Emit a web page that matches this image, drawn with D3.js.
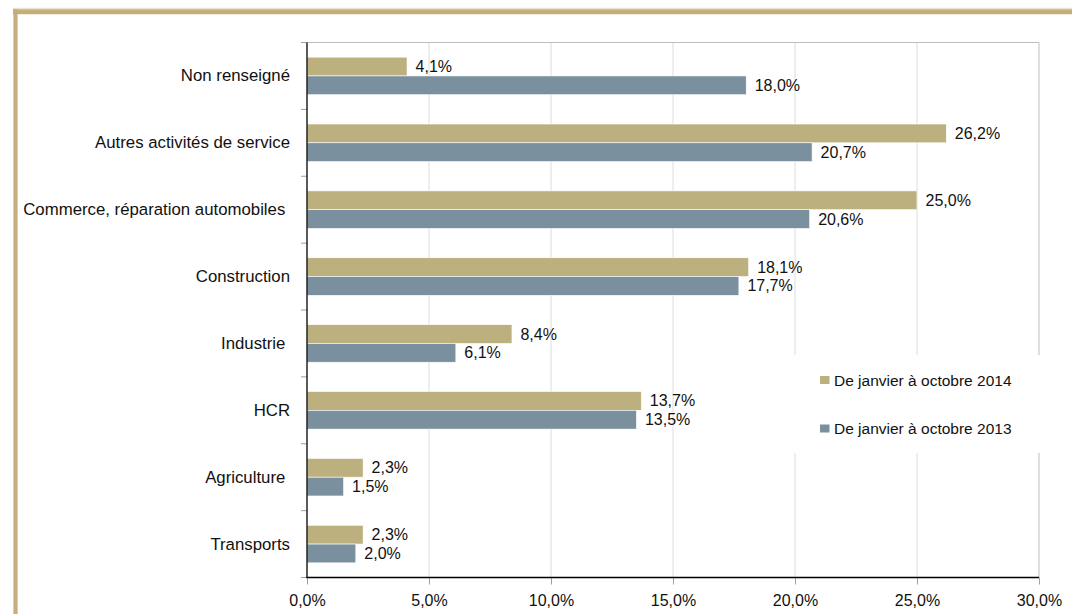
<!DOCTYPE html>
<meta charset="utf-8">
<style>
body{
  margin:0;
  background:#fff;
}
text{
  font-family:"Liberation Sans", Arial, sans-serif;
  fill:#111;
}
.cat{
  font-size:16.8px;
  text-anchor:end;
  white-space:pre;
}
.val, .tick text{
  font-size:16px;
}
.legend text{
  font-size:15.5px;
}
</style>
<body>
<script src="https://d3js.org/d3.v7.min.js"></script>
<script>

    // ---------- data ------------
    var categories = ["Non renseigné", "Autres activités de service", "Commerce, réparation automobiles ",
        "Construction", "Industrie ", "HCR", "Agriculture ", "Transports"];
    var values2014 = [4.1, 26.2, 25.0, 18.1, 8.4, 13.7, 2.3, 2.3];
    var values2013 = [18.0, 20.7, 20.6, 17.7, 6.1, 13.5, 1.5, 2.0];
    var seriesNames = ["De janvier à octobre 2014", "De janvier à octobre 2013"];
    var xTicks = [0, 5, 10, 15, 20, 25, 30];

    var color = {"De janvier à octobre 2014":"#BDB07F", "De janvier à octobre 2013":"#7A909E"};

    var rows = categories.map(function(c, i){
        return {cat:c, values:[
            {s:seriesNames[0], v:values2014[i]},
            {s:seriesNames[1], v:values2013[i]}
        ]};
    });

    var fmt = function(v){ return d3.format(".1f")(v).replace(".", ",") + "%"; };

    var svg = d3.select("body").append("svg").attr("width", 1072).attr("height", 614);

    // ---------- frame ------------
    svg.append("line").attr("x1", 13).attr("x2", 1072).attr("y1", 8.3).attr("y2", 8.3)
        .attr("stroke", "#E6DECB").attr("stroke-width", 1);
    svg.append("line").attr("x1", 13).attr("x2", 1072).attr("y1", 11.8).attr("y2", 11.8)
        .attr("stroke", "#C4AF7A").attr("stroke-width", 5);
    svg.append("line").attr("x1", 15.5).attr("x2", 15.5).attr("y1", 9.3).attr("y2", 614)
        .attr("stroke", "#C4AF7A").attr("stroke-width", 4.2);

    // ---------- scales ------------
    var x = d3.scaleLinear().domain([0, 30]).range([307, 1039]);
    var y = d3.scaleBand().domain(categories).range([42.5, 577.5]);
    var ySub = d3.scaleBand().domain(seriesNames).range([0, y.bandwidth()])
        .paddingInner(0).paddingOuter(0.78);

    // gridlines
    svg.append("g").selectAll("line").data(xTicks.slice(1)).join("line")
        .attr("x1", d => x(d)).attr("x2", d => x(d))
        .attr("y1", 42.5).attr("y2", 577.5)
        .attr("stroke", d => d == 30 ? "#BDBDBD" : "#DCDCDC").attr("stroke-width", 1);
    svg.append("line").attr("x1", 301).attr("x2", x(30)).attr("y1", 42.5).attr("y2", 42.5)
        .attr("stroke", "#BDBDBD").attr("stroke-width", 1);

    // bars
    var groups = svg.append("g").selectAll("g").data(rows).join("g")
        .attr("transform", d => "translate(0," + y(d.cat) + ")");

    groups.selectAll("rect").data(d => d.values).join("rect")
        .attr("x", x(0))
        .attr("y", d => ySub(d.s))
        .attr("width", d => x(d.v) - x(0))
        .attr("height", ySub.bandwidth())
        .attr("fill", d => color[d.s])
        .attr("stroke", "#fff").attr("stroke-width", 0.6);

    groups.selectAll("text.val").data(d => d.values).join("text")
        .attr("class", "val")
        .attr("x", d => x(d.v) + 8.5)
        .attr("y", d => ySub(d.s) + ySub.bandwidth() / 2)
        .attr("dominant-baseline", "central")
        .text(d => fmt(d.v));

    // ---------- axes ------------
    var xAxis = svg.append("g").attr("transform", "translate(0,577.5)")
        .call(d3.axisBottom(x).tickValues(xTicks).tickFormat(fmt).tickSize(7).tickPadding(9));
    xAxis.select(".domain").remove();
    xAxis.selectAll(".tick line").attr("stroke", "#A0A0A0");
    xAxis.selectAll(".tick text").attr("dy", "0.75em").attr("font-family", null).attr("font-size", null);

    // category ticks (band boundaries)
    var bounds = categories.map(c => y(c)).concat([y.range()[1]]);
    svg.append("g").selectAll("line").data(bounds).join("line")
        .attr("x1", 301).attr("x2", 307).attr("y1", d => d).attr("y2", d => d)
        .attr("stroke", "#A0A0A0").attr("stroke-width", 1);

    svg.append("line").attr("x1", 307).attr("x2", 307).attr("y1", 42.5).attr("y2", 578)
        .attr("stroke", "#000").attr("stroke-width", 1.3);
    svg.append("line").attr("x1", 306.5).attr("x2", x(30)).attr("y1", 577.5).attr("y2", 577.5)
        .attr("stroke", "#000").attr("stroke-width", 1.6);

    svg.append("g").selectAll("text").data(categories).join("text")
        .attr("class", "cat")
        .attr("x", 290)
        .attr("y", d => y(d) + y.bandwidth() / 2)
        .attr("dominant-baseline", "central")
        .text(d => d);

    // ---------- legend ------------
    var legend = svg.append("g").attr("class", "legend");
    legend.append("rect").attr("x", 787).attr("y", 355).attr("width", 262).attr("height", 98)
        .attr("fill", "#fff");
    var items = legend.selectAll("g").data(seriesNames).join("g")
        .attr("transform", (d, i) => "translate(820," + (380 + i * 48.5) + ")");
    items.append("rect").attr("x", 0).attr("y", -4).attr("width", 9.5).attr("height", 8)
        .attr("fill", d => color[d]);
    items.append("text").attr("x", 14).attr("y", 0).attr("dominant-baseline", "central")
        .text(d => d);

</script>
</body>
</html>
